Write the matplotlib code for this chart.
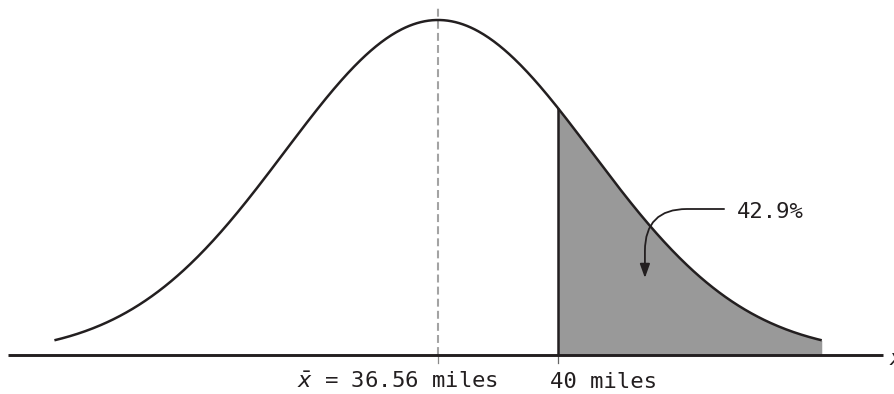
import numpy as np
import matplotlib.pyplot as plt

# distance driven (miles)
mean_miles = 36.56
cutoff_miles = 40.0
tail_pct = 42.9
spread_miles = 4.4           # width of the drawn bell
curve_from, curve_to = 25.56, 47.56

mean_label = r'$\bar{x}$ = 36.56 miles'
cutoff_label = '40 miles'
tail_label = f'{tail_pct}%'

ink = '#231f20'
shade = '#999999'
mono = 'DejaVu Sans Mono'


def bell(x):
    z = (x - mean_miles) / spread_miles
    return np.exp(-0.5 * z ** 2) / (spread_miles * np.sqrt(2 * np.pi))


fig = plt.figure(figsize=(8.95, 3.94), dpi=100)
ax = fig.add_axes([0, 0, 1, 1])
ax.axis('off')

peak = bell(mean_miles)
u = peak / 335.0             # one pixel in y units
ax.set_xlim(24.0, 49.66)
ax.set_ylim(-39 * u, peak + 20 * u)

# shaded tail beyond the cutoff
xs_tail = np.linspace(cutoff_miles, curve_to, 200)
ax.fill_between(xs_tail, 0, bell(xs_tail), color=shade, lw=0, zorder=1)

# the bell curve
xs = np.linspace(curve_from, curve_to, 600)
ax.plot(xs, bell(xs), color=ink, lw=1.8, solid_capstyle='butt', zorder=3)

# baseline (x axis)
ax.plot([24.23, 49.32], [0, 0], color=ink, lw=2.1, solid_capstyle='butt', zorder=4)

# mean marker
ax.plot([mean_miles, mean_miles], [0, peak + 13 * u], color='#a3a3a3', lw=1.5,
        dashes=(3.8, 2.0), zorder=2)
ax.plot([mean_miles, mean_miles], [0, -8 * u], color='#8a8a8a', lw=0.9, zorder=2)

# cutoff line
ax.plot([cutoff_miles, cutoff_miles], [0, bell(cutoff_miles)], color=ink, lw=1.8,
        solid_capstyle='butt', zorder=3)
ax.plot([cutoff_miles, cutoff_miles], [0, -8 * u], color='#666666', lw=0.9, zorder=2)

# labels under the axis
ax.annotate(mean_label, xy=(mean_miles, 0), xytext=(60, -33),
            textcoords='offset pixels', ha='right', va='baseline',
            fontsize=16, family=mono, color=ink)
ax.annotate(cutoff_label, xy=(cutoff_miles, 0), xytext=(-8, -33),
            textcoords='offset pixels', ha='left', va='baseline',
            fontsize=16, family=mono, color=ink)
ax.text(49.5, -10 * u, 'x', style='italic', fontsize=15, color=ink,
        ha='left', va='baseline')

# percentage callout
ax.text(45.13, 137 * u, tail_label, ha='left', va='baseline',
        fontsize=16, family=mono, color=ink)
ax.annotate('', xy=(42.49, 77 * u), xytext=(44.76, 146 * u),
            arrowprops=dict(arrowstyle='-|>,head_length=0.7,head_width=0.25',
                            connectionstyle='angle,angleA=0,angleB=90,rad=42',
                            color=ink, lw=1.3, shrinkA=0, shrinkB=0,
                            mutation_scale=12),
            zorder=5)

fig.savefig('out.png', dpi=100)
